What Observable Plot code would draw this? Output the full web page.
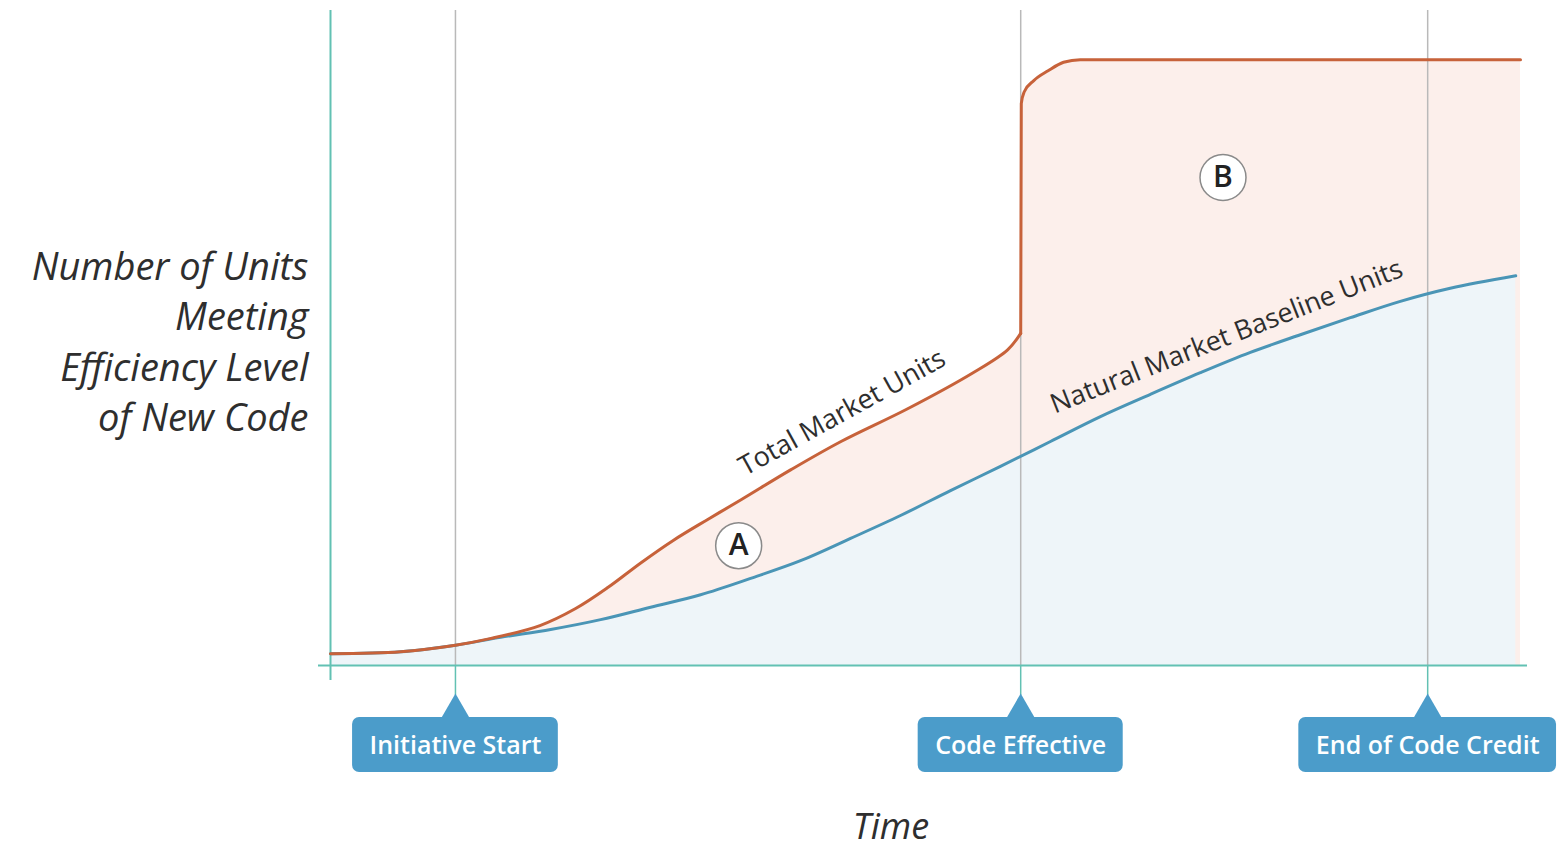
<!DOCTYPE html>
<html><head><meta charset="utf-8">
<script src="https://cdn.jsdelivr.net/npm/d3@7"></script>
<script src="https://cdn.jsdelivr.net/npm/@observablehq/plot@0.6"></script>
<style>body{margin:0;background:#fff;} svg{display:block;}</style>
</head><body><div id="chart"></div>
<script>
// ---- data (time in arbitrary units 0..100, units in arbitrary units 0..100) ----
// Total market units: gradual rise before code takes effect ...
const totalRiseT = [0, 5.9, 10.5, 13.4, 17.6, 20.6, 23.3, 26.1, 28.8, 31.7, 34.5, 38.7, 42.9, 48.5, 54.0, 56.9, 58.0];
const totalRiseV = [1.8, 2.1, 3.1, 4.1, 6.1, 8.7, 11.9, 15.7, 19.1, 22.3, 25.3, 29.9, 34.2, 39.2, 44.7, 48.2, 50.7];
// ... then a jump when the code becomes effective, and a plateau
const totalJumpT = [58.0, 58.05, 58.3, 59.1, 60.3, 61.6, 63.0, 81.5, 100];
const totalJumpV = [50.7, 85.8, 87.6, 89.3, 90.8, 92.1, 92.5, 92.5, 92.5];
// Natural market baseline units
const baseT = [0, 5.9, 10.5, 14.3, 18.5, 22.7, 26.9, 31.1, 35.3, 39.5, 43.7, 47.9, 52.1, 56.3, 60.5, 64.7, 68.9, 73.1, 77.3, 81.5, 85.7, 89.9, 94.1, 99.6];
const baseV = [1.8, 2.1, 3.1, 4.3, 5.5, 7.0, 8.9, 10.8, 13.3, 16.0, 19.4, 22.9, 26.7, 30.4, 34.2, 38.0, 41.4, 44.7, 47.8, 50.5, 53.1, 55.6, 57.6, 59.5];
const eventNames = ["Initiative Start", "Code Effective", "End of Code Credit"];
const eventT = [10.5, 58.0, 92.2];
const regionNames = ["A", "B"];
const regionT = [34.3, 75.0];
const regionV = [18.3, 74.5];
const seriesNames = ["Total Market Units", "Natural Market Baseline Units"];
const yTitle = "Number of Units\nMeeting\nEfficiency Level\nof New Code";
const xTitle = "Time";

// ---- tables built from arrays ----
const totalRise = totalRiseT.map((t, i) => ({t, v: totalRiseV[i]}));
const totalJump = totalJumpT.map((t, i) => ({t, v: totalJumpV[i]}));
const base = baseT.map((t, i) => ({t, v: baseV[i]}));
const events = eventNames.map((name, i) => ({name, t: eventT[i]}));
const regions = regionNames.map((name, i) => ({name, t: regionT[i], v: regionV[i]}));

// ---- layout ----
const W = 1562, H = 849;
const xDomain = [0, 100], xRange = [330, 1520];
const yDomain = [0, 100], yRange = [665, 10];
const kx = (xRange[1] - xRange[0]) / (xDomain[1] - xDomain[0]);
const ky = (yRange[0] - yRange[1]) / (yDomain[1] - yDomain[0]);
const pxX = p => p / kx;  // pixel length -> data units
const pxY = p => p / ky;

const font = "'Open Sans', sans-serif";
const boxFont = "600 25px 'Open Sans'";
const ctx = document.createElement("canvas").getContext("2d");
ctx.font = boxFont;
const halfW = d => pxX(ctx.measureText(d.name).width / 2 + 17);

const orange = "#c7623a", blue = "#4a95b6", pink = "#fcefeb", lightBlue = "#eef5f9";
const teal = "#62c1b3", gray = "#b9b9b9", boxBlue = "#4b9cca", ink = "#2e2e2e";

const boxTop = -pxY(52), boxBottom = -pxY(107), boxMid = -pxY(80);
const pointerCenter = -pxY(44);
const smooth = "catmull-rom", step = "monotone-x";

const chart = Plot.plot({
  width: W, height: H,
  marginLeft: 0, marginRight: 0, marginTop: 0, marginBottom: 0,
  style: {fontFamily: font, background: "#fff", overflow: "visible"},
  x: {domain: xDomain, range: xRange, axis: null},
  y: {domain: yDomain, range: yRange, axis: null},
  marks: [
    Plot.areaY(totalRise, {x: "t", y: "v", fill: pink, curve: smooth}),
    Plot.areaY(totalJump, {x: "t", y: "v", fill: pink, curve: step}),
    Plot.areaY(base, {x: "t", y: "v", fill: lightBlue, curve: smooth}),
    Plot.ruleX(events, {x: "t", y1: 0, y2: 100, stroke: gray, strokeWidth: 1.5}),
    Plot.ruleX(events, {x: "t", y1: 0, y2: -pxY(30), stroke: teal, strokeWidth: 1.5}),
    Plot.ruleY([0], {x1: -pxX(12), x2: 100 + pxX(7), stroke: teal, strokeWidth: 2}),
    Plot.ruleX([0], {y1: -pxY(15), y2: 100, stroke: teal, strokeWidth: 2}),
    Plot.line(base, {x: "t", y: "v", stroke: blue, strokeWidth: 3, curve: smooth}),
    Plot.line(totalRise, {x: "t", y: "v", stroke: orange, strokeWidth: 3, curve: smooth}),
    Plot.line(totalJump, {x: "t", y: "v", stroke: orange, strokeWidth: 3, curve: step, strokeLinejoin: "round"}),
    // series labels
    Plot.text([seriesNames[0]], {x: 43.0, y: 38.6, text: d => d, rotate: -29, fontSize: 27, fill: ink, fontWeight: 500}),
    Plot.text([seriesNames[1]], {x: 75.3, y: 50.2, text: d => d, rotate: -21.5, fontSize: 27, fill: ink, fontWeight: 500}),
    // region markers
    Plot.dot(regions, {x: "t", y: "v", r: 23, fill: "#fff", stroke: "#8a8a8a", strokeWidth: 1.5}),
    Plot.text(regions, {x: "t", y: "v", text: "name", fontSize: 30, fontWeight: 600, fill: "#222"}),
    // event callouts
    Plot.dot(events, {x: "t", y: pointerCenter, symbol: "triangle", r: 10.3, fill: boxBlue}),
    Plot.rect(events, {x1: d => d.t - halfW(d), x2: d => d.t + halfW(d), y1: boxBottom, y2: boxTop, fill: boxBlue, rx: 7}),
    Plot.text(events, {x: "t", y: boxMid, text: "name", fill: "#fff", fontSize: 25, fontWeight: 600}),
    // axis titles
    Plot.text([yTitle], {x: -pxX(22), y: 49.8, text: d => d, textAnchor: "end", fontSize: 38, fontStyle: "italic", lineHeight: 1.33, fill: ink}),
    Plot.text([xTitle], {x: 47.1, y: -pxY(162), text: d => d, fontSize: 36, fontStyle: "italic", fill: ink})
  ]
});
document.getElementById("chart").append(chart);
</script>
</body></html>
